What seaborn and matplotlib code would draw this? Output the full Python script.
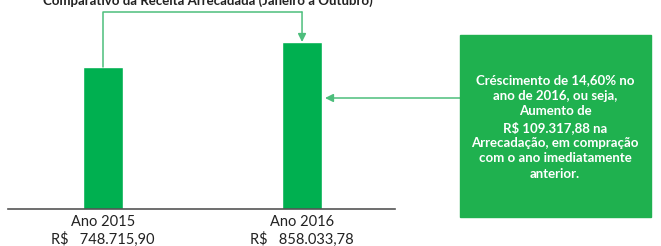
import matplotlib

matplotlib.use("Agg")
import matplotlib.pyplot as plt
import pandas as pd
import seaborn as sns
from matplotlib.patches import Rectangle

TITLE = "Comparativo da Receita Arrecadada (Janeiro a Outubro)"
YEARS = ["Ano 2015", "Ano 2016"]
REVENUE = [748715.90, 858033.78]
GROWTH_PCT = 14.60
INCREASE = 109317.88

BAR_GREEN = "#00B050"
BOX_GREEN = "#1FB14F"
LINE_GREEN = "#4DBE7C"


def brl(v: float) -> str:
    s = f"{v:,.2f}"
    return s.replace(",", "X").replace(".", ",").replace("X", ".")


def main() -> None:
    sns.set_theme(style="white")
    plt.rcParams["font.family"] = ["Lato", "DejaVu Sans"]

    df = pd.DataFrame({"ano": YEARS, "receita": REVENUE})

    W, H = 661, 246
    fig = plt.figure(figsize=(W / 100, H / 100), dpi=100)
    ax = fig.add_axes([8 / W, 37 / H, 387 / W, 209 / H])

    sns.barplot(data=df, x="ano", y="receita", color=BAR_GREEN, width=0.2,
                saturation=1, ax=ax)

    ax.set_xlim(-0.477, 1.467)
    ax.set_ylim(127800, 1041670)
    for side in ["left", "right", "top"]:
        ax.spines[side].set_visible(False)
    ax.spines["bottom"].set_color("#555555")
    ax.spines["bottom"].set_linewidth(1.2)
    ax.set_yticks([])
    ax.set_xlabel("")
    ax.set_ylabel("")
    ax.tick_params(axis="x", length=0, pad=4)
    ax.set_xticks(range(len(YEARS)))
    ax.set_xticklabels([f"{a}\nR$   {brl(v)}" for a, v in zip(YEARS, REVENUE)],
                       fontsize=10.5, color="#222222", linespacing=1.3)

    # connector from 2015 bar to 2016 bar
    top = 989000
    ax.plot([0, 0, 1], [REVENUE[0], top, top], color=LINE_GREEN, lw=1.1,
            clip_on=False)
    ax.annotate("", xy=(1, REVENUE[1]), xytext=(1, top),
                arrowprops=dict(arrowstyle="-|>", color=LINE_GREEN, lw=1.1,
                                mutation_scale=12, shrinkA=0, shrinkB=0))

    # callout box
    fig.patches.append(Rectangle((460 / W, 1 - 217 / H), 191 / W, 182 / H,
                                 transform=fig.transFigure, color=BOX_GREEN,
                                 zorder=0))
    msg = (f"Créscimento de {GROWTH_PCT:.2f}% no\n".replace(".", ",")
           + "ano de 2016, ou seja,\nAumento de\n"
           + f"R$ {brl(INCREASE)} na\n"
           + "Arrecadação, em compração\ncom o ano imediatamente\nanterior.")
    fig.text(555 / W, 1 - 127 / H, msg, ha="center", va="center", color="white",
             fontsize=9.5, fontweight="bold", linespacing=1.33)

    # arrow from box to 2016 bar
    ax.annotate("", xy=(325 / W, 1 - 98 / H), xycoords="figure fraction",
                xytext=(460 / W, 1 - 98 / H), textcoords="figure fraction",
                arrowprops=dict(arrowstyle="-|>", color=LINE_GREEN, lw=1.1,
                                mutation_scale=12, shrinkA=0, shrinkB=0))

    fig.text(208 / W, 1 - 1 / H, TITLE, ha="center", va="center",
             fontsize=9.5, fontweight="bold", color="#222222")

    fig.savefig("out.png", dpi=100)
    plt.close(fig)


if __name__ == "__main__":
    main()
